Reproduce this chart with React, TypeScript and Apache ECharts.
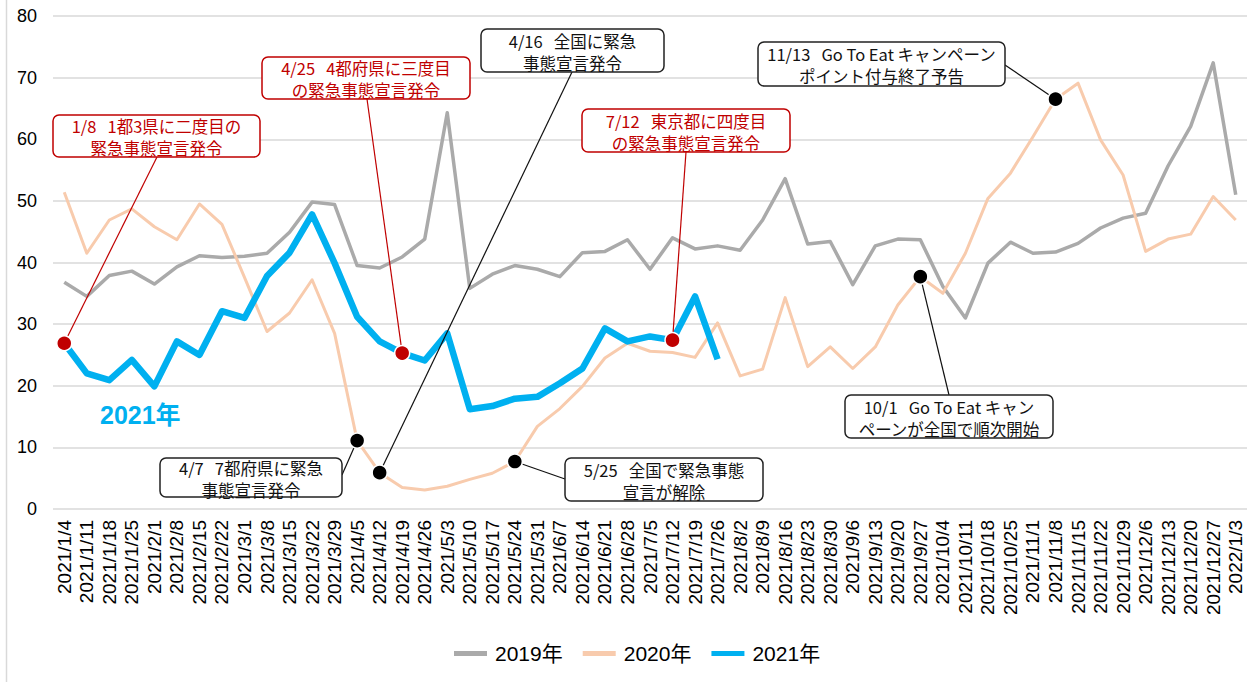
import { useEffect, useRef } from "react";
import * as echarts from "echarts";

const categories = [
  "2021/1/4", "2021/1/11", "2021/1/18", "2021/1/25", "2021/2/1", "2021/2/8", "2021/2/15", "2021/2/22",
  "2021/3/1", "2021/3/8", "2021/3/15", "2021/3/22", "2021/3/29", "2021/4/5", "2021/4/12", "2021/4/19",
  "2021/4/26", "2021/5/3", "2021/5/10", "2021/5/17", "2021/5/24", "2021/5/31", "2021/6/7", "2021/6/14",
  "2021/6/21", "2021/6/28", "2021/7/5", "2021/7/12", "2021/7/19", "2021/7/26", "2021/8/2", "2021/8/9",
  "2021/8/16", "2021/8/23", "2021/8/30", "2021/9/6", "2021/9/13", "2021/9/20", "2021/9/27", "2021/10/4",
  "2021/10/11", "2021/10/18", "2021/10/25", "2021/11/1", "2021/11/8", "2021/11/15", "2021/11/22", "2021/11/29",
  "2021/12/6", "2021/12/13", "2021/12/20", "2021/12/27", "2022/1/3",
];

const values2019 = [
  36.8, 34.5, 37.9, 38.6, 36.5, 39.3, 41.1, 40.8, 41.0, 41.5, 44.9, 49.8, 49.4, 39.5, 39.1, 40.9,
  43.8, 64.3, 35.8, 38.1, 39.5, 38.9, 37.7, 41.6, 41.8, 43.7, 38.9, 44.0, 42.2, 42.7, 42.0, 46.9,
  53.6, 43.0, 43.4, 36.4, 42.7, 43.8, 43.7, 36.1, 31.0, 39.9, 43.3, 41.5, 41.7, 43.1, 45.6, 47.2,
  48.0, 55.7, 62.1, 72.4, 51.0,
];

const values2020 = [
  51.4, 41.5, 46.9, 48.7, 45.8, 43.7, 49.5, 46.2, 37.6, 28.8, 31.8, 37.2, 28.5, 11.1, 5.9, 3.5,
  3.1, 3.7, 4.8, 5.8, 7.7, 13.4, 16.3, 19.9, 24.5, 26.9, 25.6, 25.4, 24.6, 30.2, 21.6, 22.7,
  34.3, 23.1, 26.3, 22.8, 26.3, 33.1, 37.7, 35.0, 41.5, 50.4, 54.5, 60.4, 66.5, 69.1, 59.9, 54.2,
  41.8, 43.8, 44.6, 50.7, 46.9,
];

const values2021 = [
  26.9, 22.0, 20.9, 24.2, 19.9, 27.2, 25.0, 32.1, 31.0, 37.8, 41.6, 47.8, 39.9, 31.2, 27.2, 25.3,
  24.1, 28.5, 16.2, 16.7, 17.9, 18.2, 20.4, 22.8, 29.3, 27.2, 28.0, 27.4, 34.5, 24.3,
];

const seriesNames = ["2019年", "2020年", "2021年"];
const seriesColors = ["#AAAAAA", "#F8CBAD", "#00B0F0"];
const seriesWidths = [3.5, 3, 6.5];
const seriesValues = [values2019, values2020, values2021];

type Note = {
  text: string;
  red: boolean;
  series: number;
  index: number;
  box: [number, number, number, number];
  anchor: [number, number];
};

const SP = "\u00A0\u00A0\u00A0";

const notes: Note[] = [
  { text: `1/8${SP}1都3県に二度目の\n緊急事態宣言発令`, red: true, series: 2, index: 0, box: [53, 115, 207, 42], anchor: [157, 157] },
  { text: `4/25${SP}4都府県に三度目\nの緊急事態宣言発令`, red: true, series: 2, index: 15, box: [262, 57, 208, 42], anchor: [367, 99] },
  { text: `4/16${SP}全国に緊急\n事態宣言発令`, red: false, series: 1, index: 14, box: [481, 29, 183, 43], anchor: [572, 72] },
  { text: `7/12${SP}東京都に四度目\nの緊急事態宣言発令`, red: true, series: 2, index: 27, box: [582, 109, 208, 43], anchor: [686, 152] },
  { text: `11/13${SP}Go To Eat キャンペーン\nポイント付与終了予告`, red: false, series: 1, index: 44, box: [758, 42, 247, 44], anchor: [1005, 65] },
  { text: `4/7${SP}7都府県に緊急\n事態宣言発令`, red: false, series: 1, index: 13, box: [160, 458, 182, 39], anchor: [342, 475] },
  { text: `5/25${SP}全国で緊急事態\n宣言が解除`, red: false, series: 1, index: 20, box: [565, 458, 198, 43], anchor: [565, 479] },
  { text: `10/1${SP}Go To Eat キャン\nペーンが全国で順次開始`, red: false, series: 1, index: 38, box: [845, 395, 208, 43], anchor: [949, 395] },
];

const FONT = "'Liberation Sans', 'Noto Sans CJK JP', sans-serif";
const JP_FONT = "'Noto Sans CJK JP', sans-serif";

export default function App() {
  const ref = useRef<HTMLDivElement>(null);

  useEffect(() => {
    if (!ref.current) return;
    const chart = echarts.init(ref.current, null, { renderer: "svg" });
    chart.setOption({
      animation: false,
      textStyle: { fontFamily: FONT },
      grid: { left: 53, right: 2, top: 16, bottom: 173, containLabel: false },
      legend: {
        data: seriesNames.map((name) => ({ name, icon: "rect" })),
        top: 638,
        left: 449,
        itemWidth: 33,
        itemHeight: 5,
        itemGap: 20,
        textStyle: { fontSize: 21, color: "#000", fontFamily: FONT, padding: [0, 0, 0, 3] },
      },
      xAxis: {
        type: "category",
        data: categories,
        boundaryGap: true,
        axisTick: { show: false },
        axisLine: { show: false },
        axisLabel: {
          rotate: 90,
          interval: 0,
          margin: 11,
          fontSize: 19,
          color: "#000",
          fontFamily: FONT,
        },
      },
      yAxis: {
        type: "value",
        min: 0,
        max: 80,
        interval: 10,
        axisLine: { show: false },
        axisTick: { show: false },
        axisLabel: { fontSize: 18, color: "#000", margin: 16, fontFamily: FONT },
        splitLine: { lineStyle: { color: "#D9D9D9", width: 1.5 } },
      },
      series: seriesNames.map((name, i) => ({
        name,
        type: "line",
        data: seriesValues[i],
        symbol: "none",
        showSymbol: false,
        smooth: false,
        lineStyle: { color: seriesColors[i], width: seriesWidths[i], join: "round" },
        itemStyle: { color: seriesColors[i] },
        z: 2 + i,
      })),
    });

    const graphics: any[] = [
      {
        type: "line",
        shape: { x1: 6.5, y1: 0, x2: 6.5, y2: 682 },
        style: { stroke: "#D9D9D9", lineWidth: 1.5 },
        z: 1,
      },
      {
        type: "text",
        x: 100,
        y: 415,
        style: {
          text: "2021年",
          fill: "#00B0F0",
          fontSize: 25,
          fontWeight: "bold",
          fontFamily: FONT,
          align: "left",
          verticalAlign: "middle",
        },
        z: 20,
      },
    ];

    notes.forEach((n, k) => {
      const val = seriesValues[n.series][n.index];
      const p = chart.convertToPixel({ seriesIndex: n.series }, [n.index, val]) as number[];
      const color = n.red ? "#C00000" : "#000000";
      graphics.push({
        type: "line",
        id: "leader" + k,
        shape: { x1: n.anchor[0], y1: n.anchor[1], x2: p[0], y2: p[1] },
        style: { stroke: n.red ? "#C00000" : "#111", lineWidth: 1.2 },
        z: 30,
      });
      graphics.push({
        type: "circle",
        id: "dot" + k,
        shape: { cx: p[0], cy: p[1], r: 7.5 },
        style: { fill: color, stroke: "#fff", lineWidth: 1.5 },
        z: 40,
      });
      const [bx, by, bw, bh] = n.box;
      graphics.push({
        type: "rect",
        id: "box" + k,
        shape: { x: bx, y: by, width: bw, height: bh, r: 6 },
        style: { fill: "#fff", stroke: n.red ? "#C00000" : "#222", lineWidth: 1.5 },
        z: 35,
      });
      graphics.push({
        type: "text",
        id: "txt" + k,
        x: bx + bw / 2,
        y: by + bh / 2 + 1,
        style: {
          text: n.text,
          fill: n.red ? "#C00000" : "#111",
          fontSize: 16.5,
          fontFamily: JP_FONT,
          lineHeight: 22,
          align: "center",
          verticalAlign: "middle",
        },
        z: 36,
      });
    });

    chart.setOption({ graphic: graphics });

    return () => chart.dispose();
  }, []);

  return (
    <div
      ref={ref}
      style={{ position: "fixed", left: 0, top: 0, width: 1249, height: 682, background: "#fff" }}
    />
  );
}
